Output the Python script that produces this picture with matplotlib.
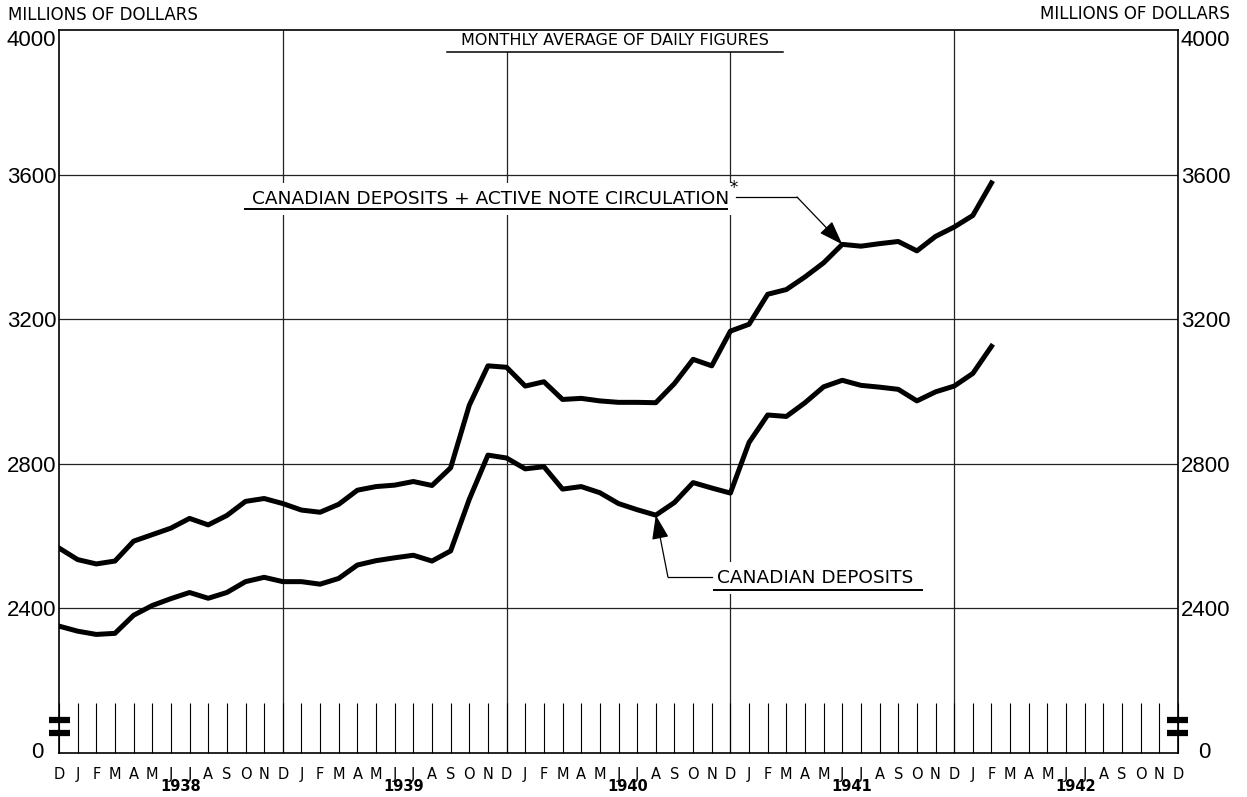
import matplotlib.pyplot as plt

# months from Dec 1937 to Dec 1942 (index 0 = Dec 1937)
month_letters = list("DJFMAMJJASON") * 5 + ["D"]
years = ["1938", "1939", "1940", "1941", "1942"]

# Canadian deposits + active note circulation, Dec 1937 .. Feb 1942
total = [2567, 2535, 2523, 2531, 2586, 2604, 2622, 2649, 2631, 2657, 2696, 2704, 2690,
         2672, 2666, 2688, 2727, 2737, 2741, 2751, 2740, 2789, 2962, 3071, 3067,
         3015, 3027, 2978, 2981, 2974, 2970, 2970, 2969, 3022, 3089, 3071, 3167,
         3186, 3269, 3282, 3317, 3356, 3407, 3402, 3409, 3415, 3389, 3429, 3455,
         3487, 3577]

# Canadian deposits, Dec 1937 .. Feb 1942
deposits = [2351, 2337, 2328, 2331, 2381, 2408, 2427, 2444, 2428, 2444, 2474, 2486, 2474,
            2474, 2467, 2483, 2520, 2532, 2540, 2547, 2531, 2559, 2702, 2824, 2816,
            2786, 2792, 2730, 2737, 2720, 2690, 2673, 2658, 2693, 2748, 2733, 2719,
            2859, 2935, 2931, 2969, 3013, 3031, 3017, 3012, 3006, 2974, 2999, 3015,
            3050, 3125]

yticks = [2400, 2800, 3200, 3600, 4000]

LETTER = "DejaVu Sans"

fig = plt.figure(figsize=(12.47, 7.97), dpi=100)
ax = fig.add_axes([59 / 1247, 1 - 753 / 797, 1119 / 1247, 723 / 797])

x = list(range(len(total)))
ax.plot(x, total, color="black", lw=3.6, solid_joinstyle="round", zorder=5)
ax.plot(x, deposits, color="black", lw=3.6, solid_joinstyle="round", zorder=5)

ax.set_xlim(0, 60)
ax.set_ylim(2000, 4000)

# grid: year boundaries and 400-step lines
for v in yticks[:-1]:
    ax.axhline(v, color="#222222", lw=0.9, zorder=1)
for m in range(12, 60, 12):
    ax.axvline(m, color="#222222", lw=0.9, zorder=1)

for s in ax.spines.values():
    s.set_linewidth(1.2)
    s.set_color("black")
    s.set_zorder(4)

# month ticks
ax.set_xticks(range(61))
ax.set_xticklabels(month_letters, fontsize=10.5, family=LETTER)
ax.tick_params(axis="x", direction="in", length=36, width=0.8, pad=10)
for i, yr in enumerate(years):
    ax.text(6.5 + 12 * i, -0.047, yr, transform=ax.get_xaxis_transform(),
            ha="center", va="center", fontsize=10.5, fontweight="bold", family=LETTER)

# y labels on both sides
ax.set_yticks(yticks)
ax.set_yticklabels([str(v) for v in yticks], fontsize=16, family="Liberation Sans")
ax.tick_params(axis="y", length=0, pad=2, labelright=True)
for lab in ax.get_yticklabels():
    if lab.get_text() == "4000":
        lab.set_verticalalignment("top")
ax.text(-0.014, 2000, "0", transform=ax.get_yaxis_transform(), ha="right", va="center",
        fontsize=16, family="Liberation Sans")
ax.text(1.018, 2000, "0", transform=ax.get_yaxis_transform(), ha="left", va="center",
        fontsize=16, family="Liberation Sans")

# axis break marks
for yb in (0.0456, 0.0277):
    ax.plot([-0.009, 0.0098], [yb, yb], transform=ax.transAxes, color="black",
            lw=4.5, solid_capstyle="butt", clip_on=False, zorder=6)
    ax.plot([0.9902, 1.009], [yb, yb], transform=ax.transAxes, color="black",
            lw=4.5, solid_capstyle="butt", clip_on=False, zorder=6)

fig.text(8 / 1247, 1 - 15 / 797, "MILLIONS OF DOLLARS", ha="left", va="center",
         fontsize=12, family=LETTER)
fig.text(1230 / 1247, 1 - 14 / 797, "MILLIONS OF DOLLARS", ha="right", va="center",
         fontsize=12, family=LETTER)

# subtitle
ax.text(29.8, 3972, "MONTHLY AVERAGE OF DAILY FIGURES", ha="center", va="center",
        fontsize=11.5, family=LETTER, zorder=2,
        bbox=dict(facecolor="white", edgecolor="none", pad=3))
ax.plot([20.8, 38.8], [3939, 3939], color="black", lw=1.1, zorder=4)

# total series label
ax.text(10.35, 3532, "CANADIAN DEPOSITS + ACTIVE NOTE CIRCULATION", ha="left", va="center",
        fontsize=13.3, family=LETTER, zorder=2,
        bbox=dict(facecolor="white", edgecolor="none", pad=5))
ax.plot([9.97, 35.8], [3505, 3505], color="black", lw=1.4, zorder=4)
ax.text(36.15, 3563, "*", ha="center", va="center", fontsize=12, family=LETTER)
ax.plot([36.3, 39.57], [3538, 3538], color="black", lw=0.9, zorder=4)
ax.annotate("", xy=(42, total[42]), xytext=(39.57, 3538),
            arrowprops=dict(arrowstyle="-|>,head_length=1.0,head_width=0.35",
                            mutation_scale=15, color="black", lw=0.9, shrinkA=0, shrinkB=0),
            zorder=6)

# deposits label
ax.text(35.3, 2484, "CANADIAN DEPOSITS", ha="left", va="center",
        fontsize=13.3, family=LETTER, zorder=2,
        bbox=dict(facecolor="white", edgecolor="none", pad=5))
ax.plot([35.1, 46.3], [2451, 2451], color="black", lw=1.4, zorder=4)
ax.plot([35.0, 32.65], [2487, 2487], color="black", lw=0.9, zorder=4)
ax.annotate("", xy=(32, deposits[32]), xytext=(32.65, 2487),
            arrowprops=dict(arrowstyle="-|>,head_length=1.0,head_width=0.35",
                            mutation_scale=15, color="black", lw=0.9, shrinkA=0, shrinkB=0),
            zorder=6)

fig.savefig("out.png", dpi=100)
